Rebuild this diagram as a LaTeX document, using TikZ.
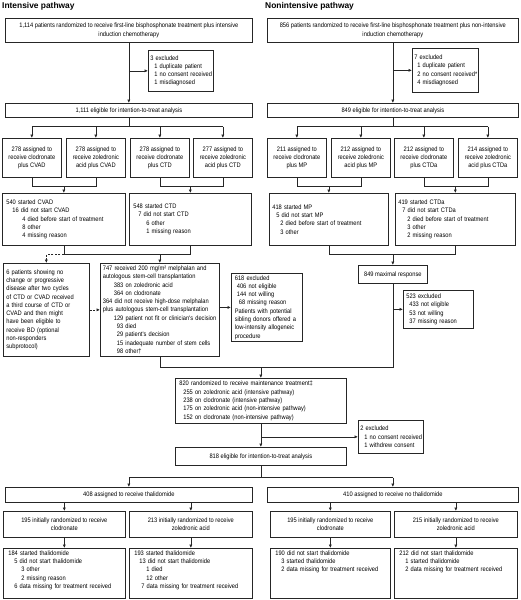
\documentclass[tikz,border=0pt]{standalone}
\usepackage{fontspec}
\setmainfont{Liberation Sans}
\newfontfamily\narrowfont{Liberation Sans}[FakeStretch=0.88]
\usetikzlibrary{arrows.meta}
\newcommand{\ind}[1]{\hspace*{#1pt}}

\begin{document}
\begin{tikzpicture}[
    x=1pt, y=-1pt,
    every node/.style={font=\narrowfont\fontsize{6.5}{8.3}\selectfont},
    box/.style={draw=black!85, line width=0.7pt, anchor=north west, inner xsep=3pt, inner ysep=2pt},
    cbox/.style={box, align=center},
    lbox/.style={box, align=left, execute at begin node={\rightskip=0pt plus 1fil minus 60pt}},
    tbox/.style={lbox, inner xsep=5pt, text depth=41pt},
    head/.style={anchor=west, inner sep=0pt, font=\bfseries\fontsize{8.4}{10}\selectfont},
    line/.style={draw=black!85, line width=0.7pt},
    arrow/.style={line, -{Latex[length=3.5pt, width=3.2pt]}},
    dasharrow/.style={arrow, dash pattern=on 2pt off 1.5pt}
]
\useasboundingbox (0,0) rectangle (520,600);

\node[head] (ihead) at (2,6.5) {Intensive pathway};
\node[head] (nhead) at (265,6.5) {Nonintensive pathway};

% intensive pathway
\node[cbox, minimum width=247pt, minimum height=24pt] (rand1) at (5,18) {1,114 patients randomized to receive first-line bisphosphonate treatment plus intensive\\induction chemotherapy};
\node[lbox, inner xsep=2pt, text width=61pt, minimum height=41pt] (excl1) at (148,50) {3 excluded\\\ind{4}1 duplicate patient\\\ind{4}1 no consent received\\\ind{4}1 misdiagnosed};
\node[cbox, minimum width=247pt, minimum height=14pt] (itt1) at (5,103) {1,111 eligible for intention-to-treat analysis};

\node[cbox, minimum width=59pt, minimum height=39pt] (cvadC) at (2,138) {278 assigned to\\receive clodronate\\plus CVAD};
\node[cbox, minimum width=59pt, minimum height=39pt] (cvadZ) at (66,138) {278 assigned to\\receive zoledronic\\acid plus CVAD};
\node[cbox, minimum width=59pt, minimum height=39pt] (ctdC) at (130,138) {278 assigned to\\receive clodronate\\plus CTD};
\node[cbox, minimum width=59pt, minimum height=39pt] (ctdZ) at (193,138) {277 assigned to\\receive zoledronic\\acid plus CTD};

\node[lbox, inner xsep=4pt, text width=115pt, minimum height=52pt] (cvad) at (2,193) {540 started CVAD\\\ind{6}16 did not start CVAD\\\ind{16}4 died before start of treatment\\\ind{16}8 other\\\ind{16}4 missing reason};
\node[lbox, inner xsep=4pt, text width=114pt, minimum height=52pt] (ctd) at (129,193) {548 started CTD\\\ind{5}7 did not start CTD\\\ind{13}6 other\\\ind{13}1 missing reason};

\node[lbox, text width=80pt, minimum height=93pt] (nochange) at (3,263) {6 patients showing no\\change or progressive\\disease after two cycles\\of CTD or CVAD received\\a third course of CTD or\\CVAD and then might\\have been eligible to\\receive BD (optional\\non-responders\\subprotocol)};
\node[lbox, inner xsep=2.5pt, text width=114pt, minimum height=93pt] (hdm) at (100,263) {747 received 200 mg/m² melphalan and\\autologous stem-cell transplantation\\\ind{11}383 on zoledronic acid\\\ind{11}364 on clodronate\\364 did not receive high-dose melphalan\\plus autologous stem-cell transplantation\\\ind{11}129 patient not fit or clinician's decision\\\ind{14}93 died\\\ind{14}29 patient's decision\\\ind{14}15 inadequate number of stem cells\\\ind{14}98 other†};
\node[lbox, inner xsep=3.5pt, text width=64pt, minimum height=68pt] (allo) at (231,273) {618 excluded\\\ind{2}406 not eligible\\\ind{2}144 not willing\\\ind{4}68 missing reason\\Patients with potential\\sibling donors offered a\\low-intensity allogeneic\\procedure};

% nonintensive pathway
\node[cbox, minimum width=251pt, minimum height=24pt] (rand2) at (267,18) {856 patients randomized to receive first-line bisphosphonate treatment plus non-intensive\\induction chemotherapy};
\node[lbox, inner xsep=2pt, text width=62pt, minimum height=44pt] (excl2) at (412,48) {7 excluded\\\ind{3}1 duplicate patient\\\ind{3}2 no consent received*\\\ind{3}4 misdiagnosed};
\node[cbox, minimum width=251pt, minimum height=14pt] (itt2) at (267,103) {849 eligible for intention-to-treat analysis};

\node[cbox, minimum width=59pt, minimum height=39pt] (mpC) at (267,138) {211 assigned to\\receive clodronate\\plus MP};
\node[cbox, minimum width=59pt, minimum height=39pt] (mpZ) at (331,138) {212 assigned to\\receive zoledronic\\acid plus MP};
\node[cbox, minimum width=59pt, minimum height=39pt] (ctdaC) at (394,138) {212 assigned to\\receive clodronate\\plus CTDa};
\node[cbox, minimum width=59pt, minimum height=39pt] (ctdaZ) at (458,138) {214 assigned to\\receive zoledronic\\acid plus CTDa};

\node[lbox, text width=113pt, minimum height=52pt] (mp) at (269,193) {418 started MP\\\ind{4}5 did not start MP\\\ind{8}2 died before start of treatment\\\ind{8}3 other};
\node[lbox, text width=114pt, minimum height=52pt] (ctda) at (395,193) {419 started CTDa\\\ind{4}7 did not start CTDa\\\ind{9}2 died before start of treatment\\\ind{9}3 other\\\ind{9}2 missing reason};
\node[cbox, minimum width=69pt, minimum height=18pt] (maxresp) at (358,265) {849 maximal response};
\node[lbox, text width=64pt, minimum height=38pt] (excl3) at (403,290) {523 excluded\\\ind{3}433 not eligible\\\ind{3}53 not willing\\\ind{3}37 missing reason};

% maintenance
\node[lbox, inner xsep=4pt, text width=163pt, minimum height=45pt] (maint) at (175,378) {820 randomized to receive maintenance treatment‡\\\ind{4}255 on zoledronic acid (intensive pathway)\\\ind{4}238 on clodronate (intensive pathway)\\\ind{4}175 on zoledronic acid (non-intensive pathway)\\\ind{4}152 on clodronate (non-intensive pathway)};
\node[lbox, inner xsep=2pt, text width=61pt, minimum height=33pt] (excl4) at (358,420) {2 excluded\\\ind{4}1 no consent received\\\ind{4}1 withdrew consent};
\node[cbox, minimum width=171pt, minimum height=18pt] (itt3) at (175,447) {818 eligible for intention-to-treat analysis};

% thalidomide
\node[cbox, minimum width=247pt, minimum height=15pt] (thal) at (5,487) {408 assigned to receive thalidomide};
\node[cbox, minimum width=251pt, minimum height=15pt] (nothal) at (267,487) {410 assigned to receive no thalidomide};
\node[cbox, minimum width=122pt, minimum height=26pt] (thalC) at (3,511) {195 initially randomized to receive\\clodronate};
\node[cbox, minimum width=123pt, minimum height=26pt] (thalZ) at (129,511) {213 initially randomized to receive\\zoledronic acid};
\node[cbox, minimum width=120pt, minimum height=26pt] (nothalC) at (270,511) {195 initially randomized to receive\\clodronate};
\node[cbox, minimum width=123pt, minimum height=26pt] (nothalZ) at (394,511) {215 initially randomized to receive\\zoledronic acid};
\node[tbox, text width=112pt, minimum height=50pt] (thalCout) at (3,548) {184 started thalidomide\\\ind{6}5 did not start thalidomide\\\ind{13}3 other\\\ind{13}2 missing reason\\\ind{6}6 data missing for treatment received};
\node[tbox, text width=113pt, minimum height=50pt] (thalZout) at (129,548) {193 started thalidomide\\\ind{5}13 did not start thalidomide\\\ind{12}1 died\\\ind{12}12 other\\\ind{7}7 data missing for treatment received};
\node[tbox, text width=110pt, minimum height=50pt] (nothalCout) at (270,548) {190 did not start thalidomide\\\ind{6}3 started thalidomide\\\ind{6}2 data missing for treatment received};
\node[tbox, text width=113pt, minimum height=50pt] (nothalZout) at (394,548) {212 did not start thalidomide\\\ind{6}1 started thalidomide\\\ind{6}2 data missing for treatment received};

% connectors, intensive
\coordinate (bus1) at ([yshift=-9pt]itt1.south);
\coordinate (join1) at ([yshift=-9pt]cvadC.south);
\coordinate (join2) at ([yshift=-9pt]ctdC.south);
\coordinate (join3) at ([yshift=-9pt]cvad.south);
\draw[arrow] (rand1) -- (itt1);
\draw[arrow] (rand1.south |- excl1.west) -- (excl1.west);
\draw[line] (itt1.south) -- (bus1);
\draw[line] (cvadC.north |- bus1) -- (ctdZ.north |- bus1);
\foreach \n in {cvadC,cvadZ,ctdC,ctdZ}
    \draw[arrow] (\n.north |- bus1) -- (\n.north);
\draw[line] (cvadC.south) -- (join1) -| (cvadZ.south);
\draw[arrow] (cvad.north |- join1) -- (cvad.north);
\draw[line] (ctdC.south) -- (join2) -| (ctdZ.south);
\draw[arrow] (ctd.north |- join2) -- (ctd.north);
\draw[line] (cvad.south) -- (join3) -| (ctd.south);
\draw[arrow] (hdm.north |- join3) -- (hdm.north);
\draw[dasharrow] (join3) -| (nochange.north);
\draw[dasharrow] (nochange) -- (hdm);
\draw[arrow] (hdm.east |- allo.west) -- (allo.west);

% connectors, nonintensive
\coordinate (bus2) at ([yshift=-9pt]itt2.south);
\coordinate (join4) at ([yshift=-9pt]mpC.south);
\coordinate (join5) at ([yshift=-9pt]ctdaC.south);
\coordinate (join6) at ([yshift=-9pt]mp.south);
\draw[arrow] (rand2) -- (itt2);
\draw[arrow] (rand2.south |- excl2.west) -- (excl2.west);
\draw[line] (itt2.south) -- (bus2);
\draw[line] (mpC.north |- bus2) -- (ctdaZ.north |- bus2);
\foreach \n in {mpC,mpZ,ctdaC,ctdaZ}
    \draw[arrow] (\n.north |- bus2) -- (\n.north);
\draw[line] (mpC.south) -- (join4) -| (mpZ.south);
\draw[arrow] (mp.north |- join4) -- (mp.north);
\draw[line] (ctdaC.south) -- (join5) -| (ctdaZ.south);
\draw[arrow] (ctda.north |- join5) -- (ctda.north);
\draw[line] (mp.south) -- (join6) -| (ctda.south);
\draw[arrow] (maxresp.north |- join6) -- (maxresp.north);
\draw[arrow] (maxresp.south |- excl3.west) -- (excl3.west);

% connectors, maintenance and thalidomide
\coordinate (join7) at ([yshift=-11pt]hdm.south);
\coordinate (join8) at ([yshift=-12pt]itt3.south);
\draw[line] (hdm.south) -- (join7) -- (maint.north |- join7);
\draw[line] (maxresp.south) |- (maint.north |- join7);
\draw[arrow] (maint.north |- join7) -- (maint.north);
\draw[arrow] (maint) -- (itt3);
\draw[arrow] (maint.south |- excl4.west) -- (excl4.west);
\draw[line] (itt3.south) -- (join8);
\draw[line] (thal.north |- join8) -- (nothal.north |- join8);
\draw[arrow] (thal.north |- join8) -- (thal.north);
\draw[arrow] (nothal.north |- join8) -- (nothal.north);
\draw[arrow] (thal.south -| thalC.north) -- (thalC.north);
\draw[arrow] (thal.south -| thalZ.north) -- (thalZ.north);
\draw[arrow] (nothal.south -| nothalC.north) -- (nothalC.north);
\draw[arrow] (nothal.south -| nothalZ.north) -- (nothalZ.north);
\draw[arrow] (thalC) -- (thalCout);
\draw[arrow] (thalZ) -- (thalZout);
\draw[arrow] (nothalC) -- (nothalCout);
\draw[arrow] (nothalZ) -- (nothalZout);
\end{tikzpicture}
\end{document}
